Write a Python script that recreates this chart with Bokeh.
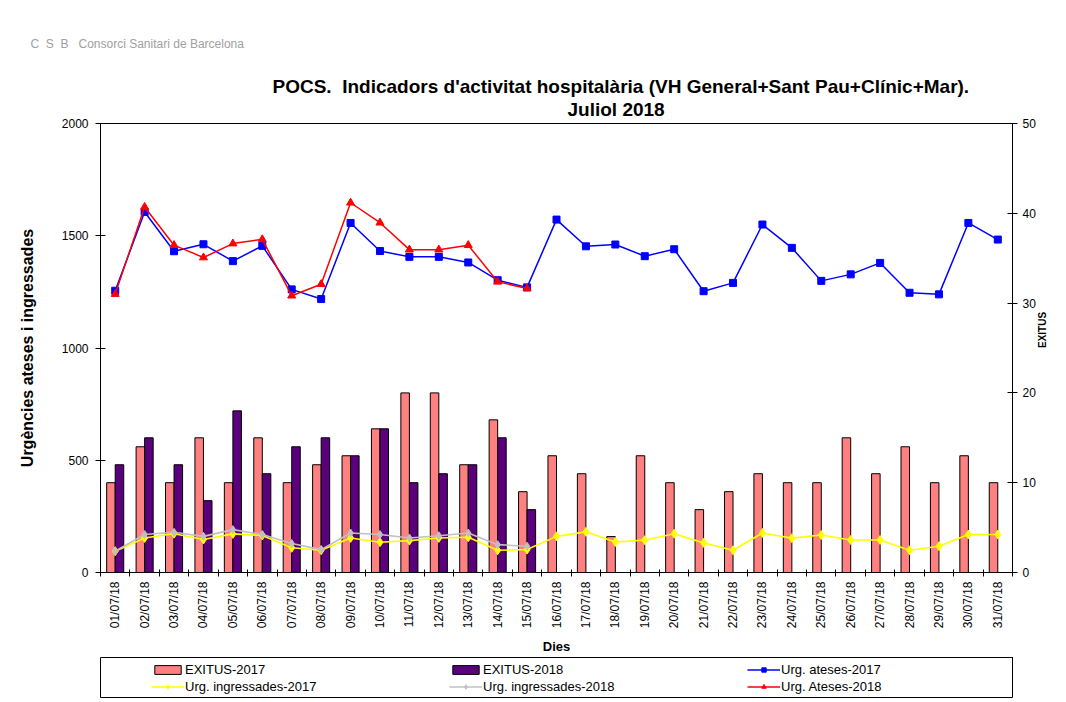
import numpy as np
from bokeh.plotting import figure
from bokeh.layouts import column
from bokeh.models import (ColumnDataSource, Range1d, LinearAxis, FixedTicker,
                          Legend, LegendItem, Title)
from bokeh.transform import dodge
from bokeh.embed import file_html
from bokeh.resources import INLINE

# ---------------- data ----------------
days = ["01/07/18", "02/07/18", "03/07/18", "04/07/18", "05/07/18", "06/07/18",
        "07/07/18", "08/07/18", "09/07/18", "10/07/18", "11/07/18", "12/07/18",
        "13/07/18", "14/07/18", "15/07/18", "16/07/18", "17/07/18", "18/07/18",
        "19/07/18", "20/07/18", "21/07/18", "22/07/18", "23/07/18", "24/07/18",
        "25/07/18", "26/07/18", "27/07/18", "28/07/18", "29/07/18", "30/07/18",
        "31/07/18"]
exitus_2017 = [10, 14, 10, 15, 10, 15, 10, 12, 13, 16, 20, 20, 12, 17, 9, 13,
               11, 4, 13, 10, 7, 9, 11, 10, 10, 15, 11, 14, 10, 13, 10]
exitus_2018 = [12, 15, 12, 8, 18, 11, 14, 15, 13, 16, 10, 11, 12, 15, 7]
ateses_2017 = [1255, 1606, 1431, 1462, 1387, 1455, 1261, 1218, 1557, 1432, 1406,
               1406, 1381, 1302, 1270, 1572, 1453, 1461, 1409, 1440, 1253, 1290,
               1550, 1446, 1299, 1328, 1379, 1246, 1239, 1557, 1483]
ateses_2018 = [1240, 1628, 1458, 1403, 1465, 1484, 1233, 1284, 1647, 1558, 1438,
               1438, 1458, 1295, 1265]
ingressades_2017 = [95, 154, 173, 147, 172, 165, 110, 99, 154, 135, 142, 154, 157,
                    99, 102, 161, 181, 136, 144, 173, 132, 99, 176, 153, 167, 145,
                    145, 99, 117, 169, 169]
ingressades_2018 = [95, 169, 179, 161, 191, 169, 129, 102, 176, 169, 154, 164, 176,
                    124, 117]
left_ticks = [0, 500, 1000, 1500, 2000]
right_ticks = [0, 10, 20, 30, 40, 50]
series_names = ["EXITUS-2017", "EXITUS-2018", "Urg. ateses-2017",
                "Urg. ingressades-2017", "Urg. ingressades-2018", "Urg. Ateses-2018"]

NB = "\u00a0"
title_line1 = "POCS." + NB + " Indicadors d'activitat hospitalària (VH General+Sant Pau+Clínic+Mar)."
title_line2 = "Juliol 2018"
logo_text = ("C" + NB * 2 + "S" + NB * 2 + "B" + NB * 3 + "Consorci Sanitari de Barcelona")

FONT = "Liberation Sans"
C_E17, C_E18 = "#FF8080", "#5B007C"
C_A17, C_A18 = "#0000FF", "#FF0000"
C_I17, C_I18 = "#FFFF00", "#C0C0C0"

n = len(days)
idx = np.arange(n)
idx18 = np.arange(len(exitus_2018))

e18_full = np.full(n, np.nan)
e18_full[:len(exitus_2018)] = exitus_2018
src_bars = ColumnDataSource(dict(x=idx, e17=exitus_2017, e18=e18_full))
src17 = ColumnDataSource(dict(x=idx, at=ateses_2017, ing=ingressades_2017))
src18 = ColumnDataSource(dict(x=idx18, at=ateses_2018, ing=ingressades_2018))

p = figure(width=1064, height=657, output_backend="svg", toolbar_location=None,
           x_range=Range1d(-0.5, n - 0.5), y_range=Range1d(0, 2000),
           min_border_left=98, min_border_right=51, min_border_top=123,
           min_border_bottom=84)
p.extra_y_ranges = {"exitus": Range1d(0, 50)}
p.grid.visible = False
p.outline_line_color = "black"
p.outline_line_width = 1
p.background_fill_color = "white"
p.border_fill_color = "white"

# top-most: logo text (p.title is stacked farthest from the frame)
p.title.text = logo_text
p.title.align = "left"
p.title.offset = -70
p.title.vertical_align = "top"
p.title.standoff = 52
p.title.text_font = FONT
p.title.text_font_size = "12px"
p.title.text_font_style = "normal"
p.title.text_color = "#a0a0a0"

# two title lines (first added is nearest the frame)
t2 = Title(text=title_line2, align="left", offset=467, standoff=8,
           text_font=FONT, text_font_size="19px", text_font_style="bold",
           text_color="black")
t1 = Title(text=title_line1, align="left", offset=172, standoff=3,
           text_font=FONT, text_font_size="19px", text_font_style="bold",
           text_color="black")
try:
    t1.standoff = -9
except Exception:
    t1.standoff = 0
p.add_layout(t2, "above")
p.add_layout(t1, "above")

# bars
p.vbar(x=dodge("x", -0.145), top="e17", width=0.29, source=src_bars,
       y_range_name="exitus", fill_color=C_E17, line_color="black", line_width=1)
p.vbar(x=dodge("x", 0.145), top="e18", width=0.29, source=src_bars,
       y_range_name="exitus", fill_color=C_E18, line_color="black", line_width=1)

# lines
p.line("x", "ing", source=src17, line_color=C_I17, line_width=1.6)
p.scatter("x", "ing", source=src17, marker="diamond", size=9,
          fill_color=C_I17, line_color=C_I17)
p.line("x", "ing", source=src18, line_color=C_I18, line_width=1.6)
p.scatter("x", "ing", source=src18, marker="diamond", size=8,
          fill_color=C_I18, line_color=C_I18)
p.line("x", "at", source=src17, line_color=C_A17, line_width=1.5)
p.scatter("x", "at", source=src17, marker="square", size=7,
          fill_color=C_A17, line_color=C_A17)
p.line("x", "at", source=src18, line_color=C_A18, line_width=1.5)
p.scatter("x", "at", source=src18, marker="triangle", size=8,
          fill_color=C_A18, line_color=C_A18)

# x axis
xa = p.xaxis[0]
xa.ticker = FixedTicker(ticks=list(idx), minor_ticks=list(idx - 0.5) + [n - 0.5])
xa.major_label_overrides = {int(i): d for i, d in zip(idx, days)}
xa.major_tick_in = 0
xa.major_tick_out = 0
xa.minor_tick_in = 3
xa.minor_tick_out = 4
xa.minor_tick_line_color = "black"
xa.major_label_orientation = np.pi / 2
xa.major_label_text_font = FONT
xa.major_label_text_font_size = "12px"
xa.major_label_text_color = "black"
xa.major_label_standoff = 5
xa.axis_label = "Dies"
xa.axis_label_text_font = FONT
xa.axis_label_text_font_size = "13px"
xa.axis_label_text_font_style = "bold"
xa.axis_label_text_color = "black"
xa.axis_label_standoff = 8
xa.axis_line_color = "black"

# left y axis
ya = p.yaxis[0]
ya.ticker = FixedTicker(ticks=left_ticks, minor_ticks=[])
ya.major_tick_in = 5
ya.major_tick_out = 5
ya.major_label_text_font = FONT
ya.major_label_text_font_size = "12px"
ya.major_label_text_color = "black"
ya.major_label_standoff = 7
ya.axis_label = "Urgències ateses i ingressades"
ya.axis_label_text_font = FONT
ya.axis_label_text_font_size = "16px"
ya.axis_label_text_font_style = "bold"
ya.axis_label_text_color = "black"
ya.axis_label_standoff = 23
ya.axis_line_color = "black"

# right y axis
ra = LinearAxis(y_range_name="exitus", ticker=FixedTicker(ticks=right_ticks, minor_ticks=[]))
ra.major_tick_in = 5
ra.major_tick_out = 5
ra.major_label_text_font = FONT
ra.major_label_text_font_size = "12px"
ra.major_label_text_color = "black"
ra.major_label_standoff = 5
ra.axis_label = "EXITUS"
ra.axis_label_text_font = FONT
ra.axis_label_text_font_size = "10px"
ra.axis_label_text_font_style = "bold"
ra.axis_label_text_color = "black"
ra.axis_label_standoff = 4
ra.axis_line_color = "black"
try:
    ra.axis_label_orientation = np.pi / 2
except Exception:
    pass
p.add_layout(ra, "right")

# ---------------- legend strip (own small figure below the chart) ----------------
# Its renderers use the same data, but its ranges show none of it: only the
# legend (and the frame, drawn as the legend box) is visible.
q = figure(width=1064, height=45, output_backend="svg", toolbar_location=None,
           x_axis_type=None, y_axis_type=None,
           x_range=Range1d(-200, -199), y_range=Range1d(-200, -199),
           min_border_left=100, min_border_right=52, min_border_top=0,
           min_border_bottom=5)
q.grid.visible = False
q.outline_line_color = "black"
q.outline_line_width = 1
q.border_fill_color = "white"
q.extra_y_ranges = {"exitus": Range1d(-200, -199)}
lb17 = q.vbar(x="x", top="e17", width=0.29, source=src_bars, y_range_name="exitus",
              fill_color=C_E17, line_color="black")
lb18 = q.vbar(x="x", top="e18", width=0.29, source=src_bars, y_range_name="exitus",
              fill_color=C_E18, line_color="black")


def pair(src, col, color, marker, size):
    r1 = q.line("x", col, source=src, line_color=color, line_width=1.5)
    r2 = q.scatter("x", col, source=src, marker=marker, size=size,
                   fill_color=color, line_color=color)
    return [r1, r2]


items = [
    LegendItem(label=series_names[0], renderers=[lb17]),
    LegendItem(label=series_names[1], renderers=[lb18]),
    LegendItem(label=series_names[2], renderers=pair(src17, "at", C_A17, "square", 6)),
    LegendItem(label=series_names[3], renderers=pair(src17, "ing", C_I17, "diamond", 7)),
    LegendItem(label=series_names[4], renderers=pair(src18, "ing", C_I18, "diamond", 7)),
    LegendItem(label=series_names[5], renderers=pair(src18, "at", C_A18, "triangle", 7)),
]
legend = Legend(items=items, orientation="horizontal", ncols=3,
                location=(50, 2),
                label_text_font=FONT, label_text_font_size="13px",
                label_text_color="black", glyph_width=33, glyph_height=11,
                label_standoff=1, label_width=262, spacing=2, padding=1,
                margin=0, border_line_alpha=0, background_fill_alpha=0)
q.add_layout(legend, "center")

layout = column(p, q, spacing=0)
open("out.html", "w").write(file_html(layout, INLINE))
